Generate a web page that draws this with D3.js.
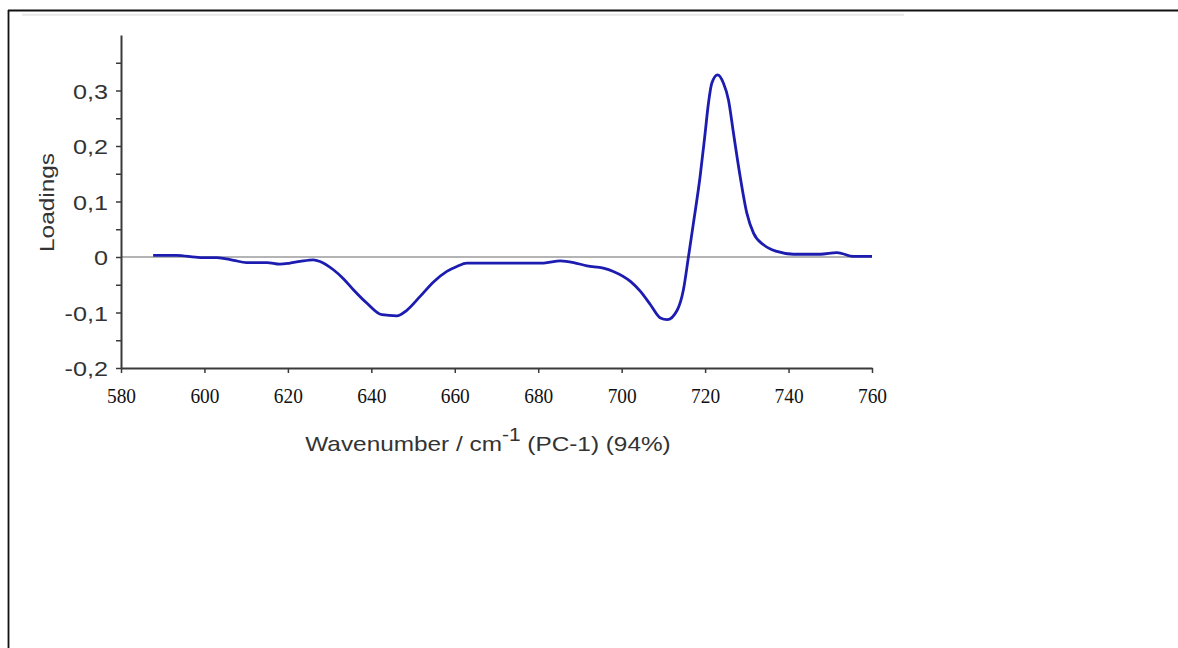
<!DOCTYPE html>
<html>
<head>
<meta charset="utf-8">
<script src="https://cdn.jsdelivr.net/npm/d3@7"></script>
<style>
  html, body { margin: 0; padding: 0; background: #fff; }
  svg { display: block; }
</style>
</head>
<body>
<svg id="chart" width="1178" height="648"></svg>
<script>
// ---- data ----
const wavenumber = [587.7, 593.3, 599.0, 603.0, 607.0, 610.1, 615.0, 618.1, 620.5, 622.9,
  626.1, 627.7, 630.9, 633.3, 635.7, 638.9, 642.5, 646.1, 648.5, 651.7,
  654.9, 658.1, 660.5, 662.9, 670.9, 681.3, 685.3, 688.5, 691.7, 695.6,
  698.0, 702.1, 704.5, 706.9, 709.3, 710.9, 713.3, 714.8, 716.0, 717.2,
  718.8, 720.0, 720.8, 721.6, 723.0, 724.4, 725.6, 726.8, 728.4, 730.0,
  731.6, 734.0, 737.2, 741.2, 747.6, 751.6, 755.6, 760.0];
const loadings = [0.003, 0.003, -0.001, -0.001, -0.006, -0.010, -0.010, -0.013, -0.011, -0.008,
  -0.005, -0.008, -0.023, -0.039, -0.059, -0.083, -0.104, -0.106, -0.096, -0.071,
  -0.045, -0.026, -0.017, -0.011, -0.011, -0.011, -0.007, -0.010, -0.016, -0.020,
  -0.026, -0.044, -0.062, -0.086, -0.110, -0.113, -0.096, -0.059, 0.000, 0.061,
  0.145, 0.223, 0.277, 0.313, 0.328, 0.313, 0.283, 0.223, 0.145, 0.079,
  0.043, 0.022, 0.010, 0.005, 0.005, 0.008, 0.001, 0.001];
const xTicks = [580, 600, 620, 640, 660, 680, 700, 720, 740, 760];
const yTicks = [-0.2, -0.1, 0, 0.1, 0.2, 0.3];
const yMinorTicks = [-0.15, -0.05, 0.05, 0.15, 0.25, 0.35];
const xDomain = [580, 760];
const yDomain = [-0.2, 0.4];

// ---- layout ----
const svg = d3.select("#chart");
const mLeft = 121, mRight = 872, mTop = 35, mBottom = 368;

const x = d3.scaleLinear().domain(xDomain).range([mLeft, mRight]);
const y = d3.scaleLinear().domain(yDomain).range([mBottom, mTop]);

// outer frame (top and left edges) and faint line
svg.append("line").attr("x1", 8).attr("x2", 1178).attr("y1", 10.5).attr("y2", 10.5)
  .attr("stroke", "#111").attr("stroke-width", 1.8);
svg.append("line").attr("x1", 8.5).attr("x2", 8.5).attr("y1", 10).attr("y2", 648)
  .attr("stroke", "#111").attr("stroke-width", 1.8);
svg.append("line").attr("x1", 22).attr("x2", 904).attr("y1", 14.8).attr("y2", 14.8)
  .attr("stroke", "#e8e8e8").attr("stroke-width", 2);

// zero line
svg.append("line").attr("x1", mLeft).attr("x2", mRight).attr("y1", y(0)).attr("y2", y(0))
  .attr("stroke", "#b4b4b4").attr("stroke-width", 2);

const axisColor = "#3a3a3a";

function stretch(sel, k) {
  sel.each(function () {
    const w = this.getComputedTextLength();
    d3.select(this).attr("textLength", w * k).attr("lengthAdjust", "spacingAndGlyphs");
  });
}

// x axis
const gx = svg.append("g").attr("transform", `translate(0,${mBottom})`)
  .call(d3.axisBottom(x).tickValues(xTicks).tickSize(5).tickSizeOuter(0).tickFormat(d3.format("d")));
gx.select(".domain").attr("stroke", axisColor).attr("stroke-width", 2);
gx.selectAll(".tick line").attr("stroke", axisColor).attr("stroke-width", 1.5);
gx.selectAll(".tick text")
  .attr("font-family", "'Liberation Serif', 'Times New Roman', serif")
  .attr("font-size", 22).attr("fill", "#111").attr("y", 35).attr("dy", 0);
stretch(gx.selectAll(".tick text"), 0.88);

// y axis minor ticks
const gyMinor = svg.append("g").attr("transform", `translate(${mLeft},0)`)
  .call(d3.axisLeft(y).tickValues(yMinorTicks).tickSize(5).tickFormat(""));
gyMinor.select(".domain").remove();
gyMinor.selectAll(".tick line").attr("stroke", axisColor).attr("stroke-width", 1.5);

// y axis
const fmtY = d => d === 0 ? "0" : d3.format(".1f")(d).replace(".", ",").replace("\u2212", "-");
const gy = svg.append("g").attr("transform", `translate(${mLeft},0)`)
  .call(d3.axisLeft(y).tickValues(yTicks).tickSize(5).tickSizeOuter(0).tickFormat(fmtY));
gy.select(".domain").attr("stroke", axisColor).attr("stroke-width", 2);
gy.selectAll(".tick line").attr("stroke", axisColor).attr("stroke-width", 1.5);
gy.selectAll(".tick text")
  .attr("font-family", "'Liberation Sans', Arial, sans-serif")
  .attr("font-size", 21).attr("fill", "#333").attr("x", -13).attr("dy", "0.36em");
stretch(gy.selectAll(".tick text"), 1.2);

// axis titles
const yTitle = svg.append("text")
  .attr("transform", `translate(54,${(153 + 252) / 2}) rotate(-90)`)
  .attr("text-anchor", "middle")
  .attr("font-family", "'Liberation Sans', Arial, sans-serif")
  .attr("font-size", 21).attr("fill", "#333")
  .text("Loadings");
stretch(yTitle, 1.16);

const xTitle = svg.append("text")
  .attr("transform", "translate(488,451) scale(1.16,1)")
  .attr("text-anchor", "middle")
  .attr("font-family", "'Liberation Sans', Arial, sans-serif")
  .attr("font-size", 21).attr("fill", "#333");
xTitle.append("tspan").text("Wavenumber / cm");
xTitle.append("tspan").attr("dy", -10).attr("font-size", 18).text("-1");
xTitle.append("tspan").attr("dy", 10).text(" (PC-1) (94%)");

// the loading curve
const pts = wavenumber.map((w, i) => [w, loadings[i]]);
const line = d3.line().x(d => x(d[0])).y(d => y(d[1])).curve(d3.curveMonotoneX);
svg.append("path").datum(pts)
  .attr("d", line)
  .attr("fill", "none")
  .attr("stroke", "#1c1cb0")
  .attr("stroke-width", 2.8)
  .attr("stroke-linejoin", "round");
</script>
</body>
</html>
